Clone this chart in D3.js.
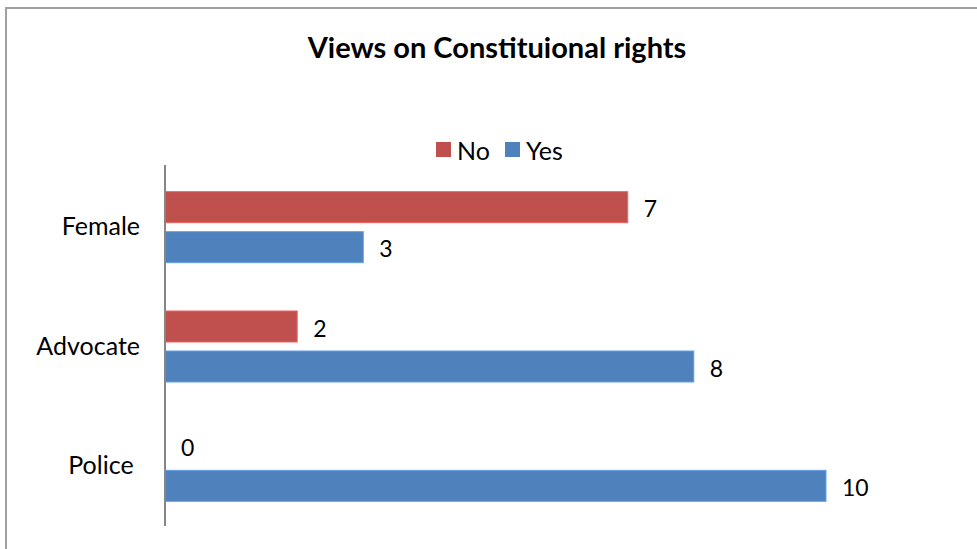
<!DOCTYPE html>
<html>
<head>
<meta charset="utf-8">
<script src="https://cdn.jsdelivr.net/npm/d3@7"></script>
<style>
  body { margin: 0; background: #fff; }
  svg { display: block; font-family: Lato, "Open Sans", sans-serif; }
  .tick text { white-space: pre; }
</style>
</head>
<body>
<svg id="chart" width="977" height="549"></svg>
<script>
// Chart data
const categories = ["Female", "Advocate", "Police "];
const seriesNames = ["No", "Yes"];
const noValues = [7, 2, 0];
const yesValues = [3, 8, 10];
const seriesColors = ["#C0504D", "#4F81BD"];
const titleText = "Views on Constituional rights";

const svg = d3.select("#chart");

// Outer chart frame
svg.append("rect")
  .attr("x", 6).attr("y", 8)
  .attr("width", 990).attr("height", 560)
  .attr("fill", "none").attr("stroke", "#a0a0a0").attr("stroke-width", 2);

// Title
svg.append("text")
  .attr("x", 497).attr("y", 58)
  .attr("text-anchor", "middle")
  .attr("font-size", 29).attr("font-weight", "bold")
  .attr("fill", "#000")
  .text(titleText);

const plotLeft = 165;
const x = d3.scaleLinear().domain([0, 10]).range([plotLeft, 826]);
const y = d3.scaleBand().domain(categories).range([167.5, 525.5]).paddingInner(0).paddingOuter(0);

const rows = categories.map((c, i) => ({ cat: c, values: [noValues[i], yesValues[i]] }));

const barH = 31, barGap = 9;
const groupH = barH * 2 + barGap;

rows.forEach(r => {
  const center = y(r.cat) + y.bandwidth() / 2;
  const top = center - groupH / 2;
  r.values.forEach((v, s) => {
    const by = top + s * (barH + barGap);
    svg.append("rect")
      .attr("x", x(0)).attr("y", by)
      .attr("width", x(v) - x(0)).attr("height", barH)
      .attr("fill", seriesColors[s])
      .attr("stroke", v > 0 ? d3.color(seriesColors[s]).brighter(0.6) : "none")
      .attr("stroke-width", 1);
    svg.append("text")
      .attr("x", x(v) + 16).attr("y", by + barH / 2 + 1)
      .attr("dominant-baseline", "central")
      .attr("font-size", 23).attr("fill", "#000")
      .text(v);
  });
});

// Category axis
const axis = d3.axisLeft(y).tickSize(0).tickPadding(25);
const ag = svg.append("g").attr("transform", `translate(${plotLeft},0)`).call(axis);
ag.select(".domain").attr("stroke", "#868686").attr("stroke-width", 2)
  .attr("d", `M0,165V526`);
ag.selectAll("text").attr("font-size", 25).attr("fill", "#000")
  .attr("font-family", "Lato, 'Open Sans', sans-serif");

// Legend
const legendX = [436, 505];
seriesNames.forEach((n, i) => {
  const g = svg.append("g").attr("transform", `translate(${legendX[i]},142)`);
  g.append("rect").attr("width", 15).attr("height", 15).attr("fill", seriesColors[i]);
  g.append("text").attr("x", 21).attr("y", 8)
    .attr("dominant-baseline", "central")
    .attr("font-size", 25).attr("fill", "#000").text(n);
});
</script>
</body>
</html>
